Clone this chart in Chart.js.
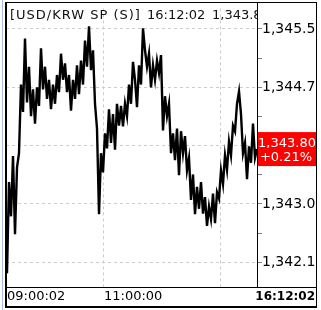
<!DOCTYPE html>
<html lang="ko">
<head>
  <meta charset="UTF-8" />
  <title>USD/KRW SP</title>
  <script src="https://cdn.jsdelivr.net/npm/chart.js"></script>
  <style>
    body {
      margin: 0;
      background: #fff;
    }
    canvas {
      display: block;
    }
  </style>
</head>
<body>
  <canvas id="fxChart" width="321" height="310"></canvas>

  <script>
    // USD/KRW spot, ticks from 09:00:02 to 16:12:02 (one value per sample)
    const prices = [
      1341.99, 1343.32, 1342.82, 1343.70, 1342.56, 1343.53, 1343.74, 1344.74, 1344.34, 1345.41,
      1344.48, 1345.00, 1344.28, 1344.67, 1344.17, 1344.70, 1344.43, 1345.27, 1344.67, 1345.00,
      1344.53, 1344.81, 1344.38, 1344.74, 1344.46, 1344.88, 1344.63, 1345.19, 1344.81, 1345.05,
      1344.63, 1344.88, 1344.36, 1344.81, 1344.53, 1345.02, 1344.60, 1345.09, 1344.74, 1345.38,
      1345.00, 1345.59, 1344.95, 1345.24, 1344.46, 1344.10, 1342.85, 1343.74, 1343.46, 1344.03,
      1343.81, 1344.38, 1343.89, 1344.31, 1343.79, 1344.46, 1344.14, 1344.43, 1344.13, 1344.46,
      1344.28, 1344.74, 1344.46, 1345.07, 1344.81, 1344.41, 1345.02, 1344.74, 1345.56, 1345.24,
      1345.00, 1345.19, 1344.70, 1345.02, 1344.81, 1345.09, 1344.91, 1345.17, 1344.07, 1344.57,
      1344.28, 1344.46, 1343.74, 1344.03, 1343.64, 1344.10, 1343.42, 1344.06, 1343.74, 1343.99,
      1343.49, 1343.67, 1343.06, 1343.43, 1342.85, 1343.25, 1342.93, 1343.32, 1342.86, 1343.10,
      1342.68, 1342.96, 1342.78, 1343.15, 1342.72, 1343.17, 1343.08, 1343.49, 1343.29, 1343.71,
      1343.50, 1343.91, 1343.71, 1344.14, 1344.06, 1344.46, 1344.64, 1344.31, 1343.74, 1343.89,
      1343.36, 1343.84, 1343.60, 1344.17, 1343.67, 1343.80
    ];

    const yTicks = [1342.15, 1342.575, 1343.00, 1343.425, 1343.85, 1344.275, 1344.70, 1345.125, 1345.55];
    const yMajor = [1342.15, 1343.00, 1343.85, 1344.70, 1345.55];
    const xGrid = [48, 106.5];           // sample index of the vertical grid lines
    const xLabels = ['09:00:02', '11:00:00', '16:12:02'];
    const titleParts = ['[USD/KRW SP (S)]', '16:12:02', '1,343.80'];
    const pctChange = '+0.21%';

    const fmt = v => v.toLocaleString('en-US', { minimumFractionDigits: 2, maximumFractionDigits: 2 });

    const framePlugin = {
      id: 'frame',
      afterDraw(chart) {
        const ctx = chart.ctx;
        const a = chart.chartArea;
        const xs = chart.scales.x;
        const ys = chart.scales.y;
        ctx.save();

        // title inside the plot, cut at the right edge
        ctx.save();
        ctx.beginPath();
        ctx.rect(a.left, a.top, a.right - a.left, a.bottom - a.top);
        ctx.clip();
        ctx.fillStyle = '#111';
        ctx.font = '13px "DejaVu Sans"';
        ctx.textBaseline = 'middle';
        ctx.letterSpacing = '1px';
        ctx.fillText(titleParts[0], 10, 16);
        ctx.letterSpacing = '0px';
        ctx.fillText(titleParts[1], 147, 16);
        ctx.fillText(titleParts[2], 212, 16);
        ctx.restore();

        // last price box
        const last = prices[prices.length - 1];
        const py = ys.getPixelForValue(last);
        ctx.fillStyle = '#ff0000';
        ctx.fillRect(a.right + 1, py - 17, 316 - a.right - 1, 34);
        ctx.fillStyle = '#fff';
        ctx.font = '13px "DejaVu Sans"';
        ctx.textAlign = 'center';
        ctx.textBaseline = 'middle';
        ctx.fillText(fmt(last), 287, py - 5);
        ctx.fillText(pctChange, 286, py + 9);

        // clip the axis labels at the outer frame
        ctx.fillStyle = '#fff';
        ctx.fillRect(317, 0, 4, 310);
        ctx.fillRect(0, 0, 5, 310);
        ctx.fillRect(0, 0, 321, 2);

        // time labels
        ctx.fillStyle = '#000';
        ctx.textAlign = 'left';
        ctx.font = '13px "DejaVu Sans"';
        ctx.fillText(xLabels[0], 7, 297);
        ctx.fillText(xLabels[1], xs.getPixelForValue(xGrid[0]) + 1, 297);
        ctx.textAlign = 'right';
        ctx.font = 'bold 12px "DejaVu Sans"';
        ctx.fillText(xLabels[2], 315, 297);

        // frame
        ctx.fillStyle = '#a8bde0';
        ctx.fillRect(2, 0, 1, 310);
        ctx.fillStyle = '#000';
        ctx.fillRect(5, 2, 312, 1);                 // top
        ctx.fillRect(5, 2, 2, 306);                 // left
        ctx.fillRect(316, 2, 1, 306);               // right
        ctx.fillRect(5, 306, 312, 2);               // bottom
        ctx.fillRect(5, Math.round(a.bottom), 312, 1);    // above time labels
        ctx.fillRect(Math.round(a.right), 2, 1, a.bottom - 2); // plot / axis
        ctx.restore();
      }
    };

    new Chart(document.getElementById('fxChart'), {
      type: 'line',
      data: {
        datasets: [{
          data: prices.map((p, i) => ({ x: i, y: p })),
          borderColor: '#000',
          borderWidth: 2.4,
          borderJoinStyle: 'miter',
          pointRadius: 0,
          tension: 0
        }]
      },
      options: {
        responsive: false,
        animation: false,
        layout: { padding: { left: 6, top: 2, right: 0, bottom: 0 } },
        plugins: { legend: { display: false }, tooltip: { enabled: false } },
        scales: {
          x: {
            type: 'linear',
            min: -0.5,
            max: 125,
            afterBuildTicks: s => { s.ticks = xGrid.map(v => ({ value: v })); },
            afterFit: s => { s.height = 23; },
            ticks: { display: false },
            grid: { color: '#cccccc', drawTicks: false },
            border: { display: false, dash: [3, 3] }
          },
          y: {
            position: 'right',
            min: 1341.79,
            max: 1345.85,
            afterBuildTicks: s => { s.ticks = yTicks.map(v => ({ value: v })); },
            afterFit: s => { s.width = 64; },
            ticks: {
              padding: 0,
              color: '#000',
              font: { family: 'DejaVu Sans', size: 14 },
              callback: v => yMajor.includes(v) ? fmt(v) : ''
            },
            grid: {
              color: c => yMajor.includes(c.tick && c.tick.value) ? '#cccccc' : 'rgba(0,0,0,0)',
              tickColor: '#808080',
              tickLength: 5,
              tickBorderDash: []
            },
            border: { display: false, dash: [3, 3] }
          }
        }
      },
      plugins: [framePlugin]
    });
  </script>
</body>
</html>
